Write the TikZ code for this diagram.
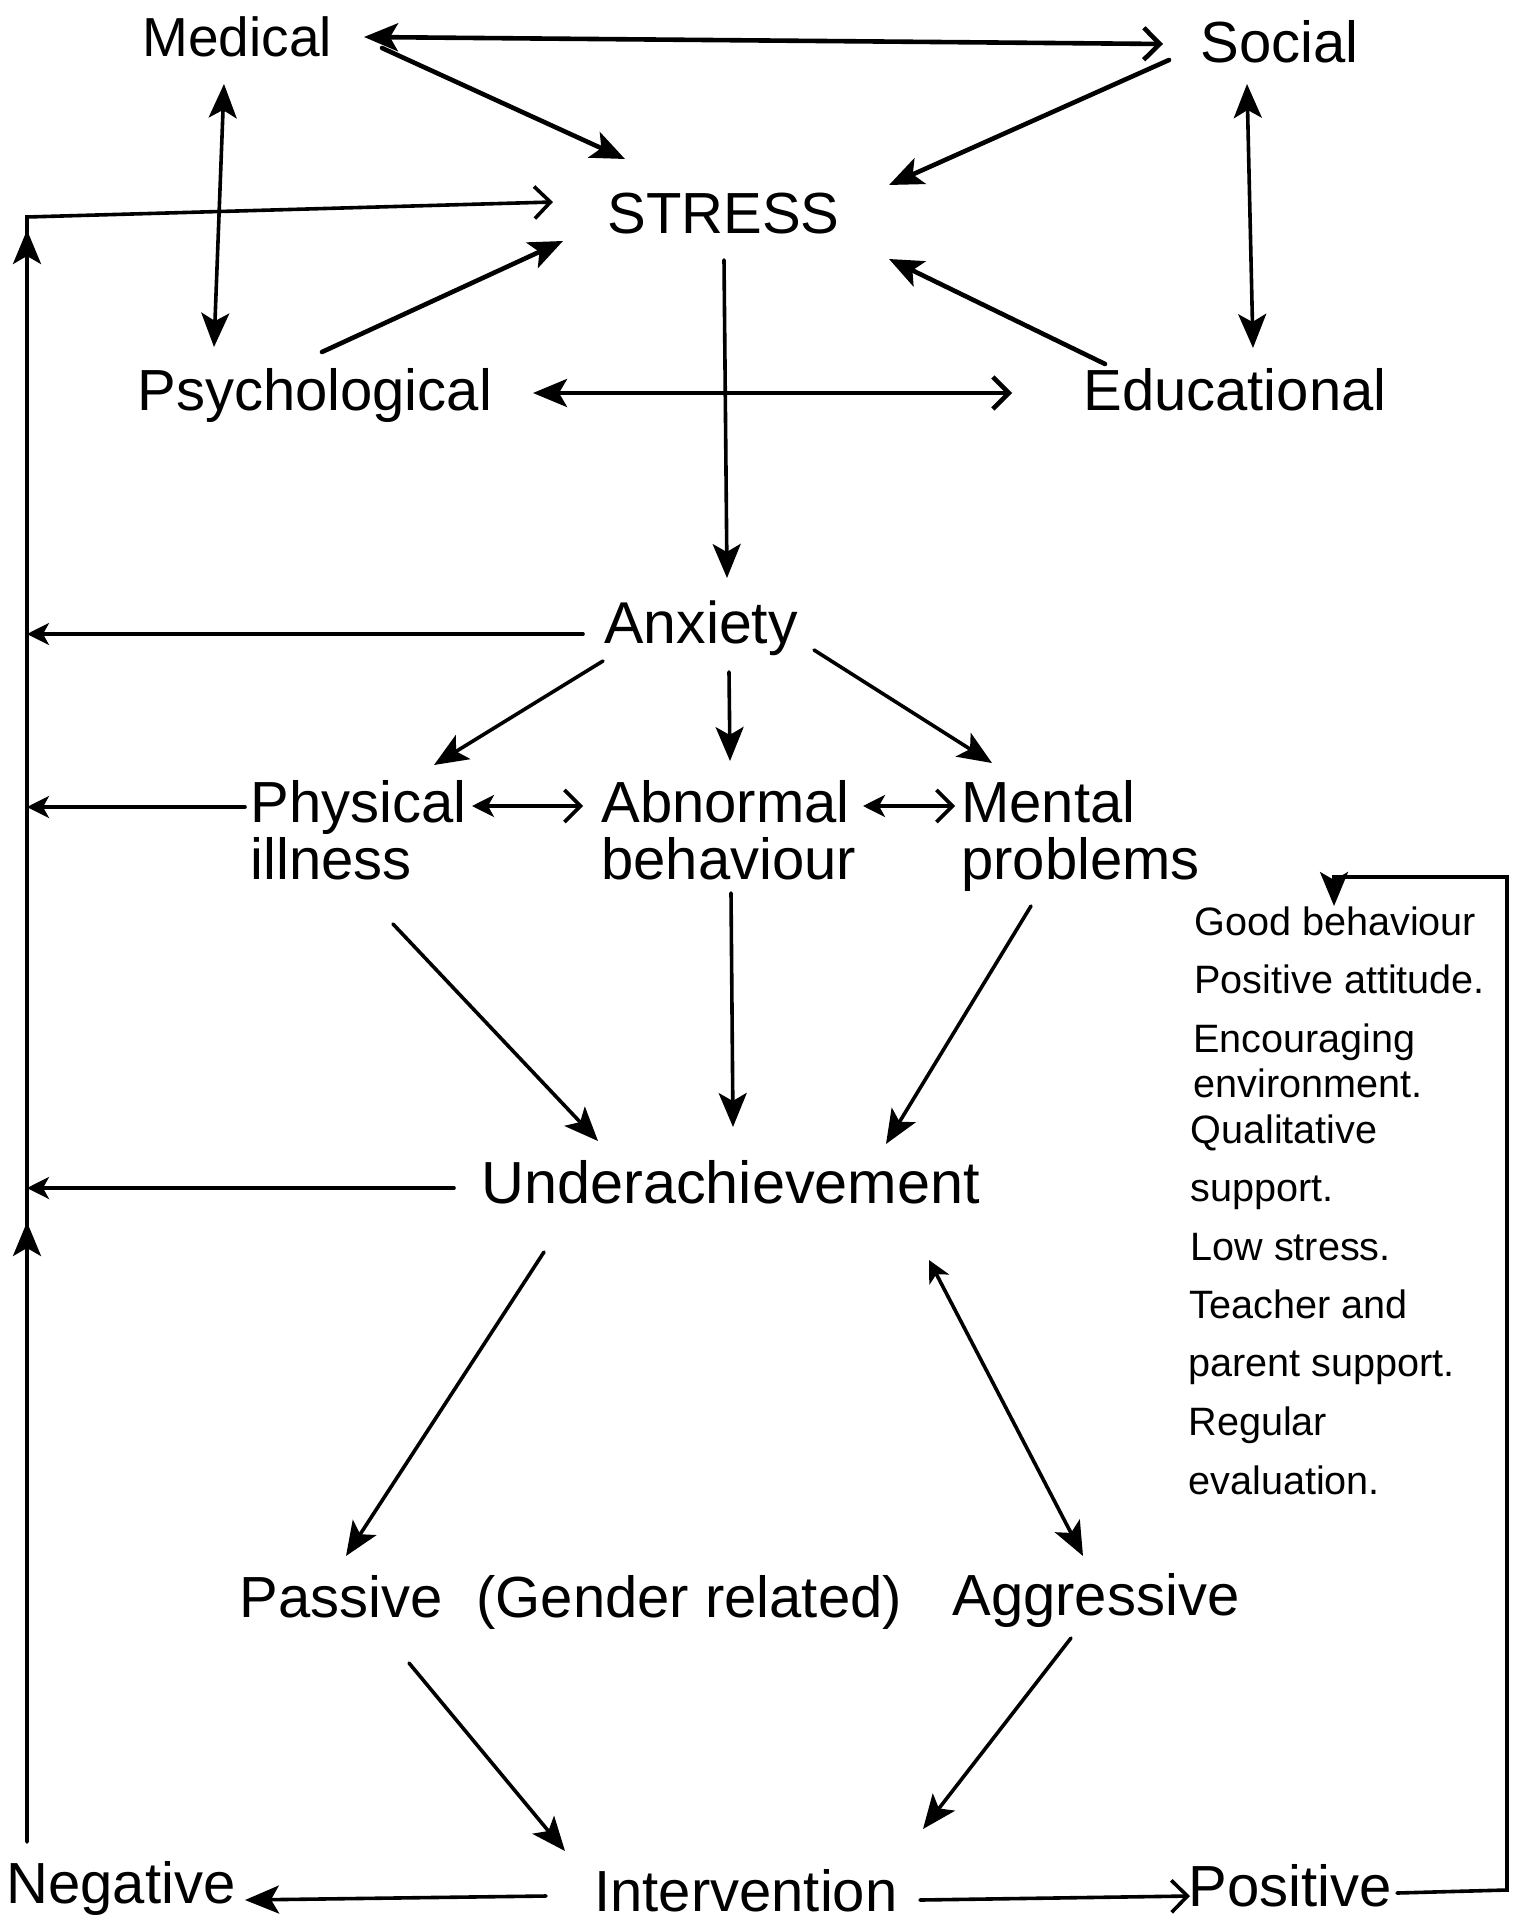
\documentclass[tikz,border=0pt]{standalone}
\usepackage{fontspec}
\setmainfont{Liberation Sans}
\usetikzlibrary{arrows.meta,calc,decorations.markings}

\tikzset{
  hd/.tip={Stealth[length=17pt,width=14pt,inset=4pt]},
  sm/.tip={Stealth[length=11pt,width=11pt,inset=3pt]},
  op/.tip={Straight Barb[length=8pt,width=16pt]},
}

\begin{document}
\begin{tikzpicture}[x=0.5pt,y=-0.5pt,
  lbl/.style={anchor=base west,inner sep=0pt,font=\fontsize{29pt}{34pt}\selectfont},
  sml/.style={anchor=base west,inner sep=0pt,font=\fontsize{19.8pt}{23pt}\selectfont},
  con/.style={line width=1.8pt,line cap=round},
  heavy/.style={line width=2.3pt,line cap=round},
]
\fill[white] (0,0) rectangle (1512,1925);
\useasboundingbox (0,0) rectangle (1512,1925);

% ---------- labels ----------
\node[lbl,font=\fontsize{27.5pt}{33pt}\selectfont] (nMed) at (142,57) {Medical};
\node[lbl] (nSoc) at (1200,63) {Social};
\node[lbl] (nStr) at (607,234) {STRESS};
\node[lbl] (nPsy) at (137,411) {Psychological};
\node[lbl] (nEdu) at (1083,411) {Educational};
\node[lbl,font=\fontsize{29.5pt}{34pt}\selectfont] (nAnx) at (604,643) {Anxiety};
\node[lbl] (nPhy) at (250,822) {Physical};
\node[lbl] (nPhyB) at (250,879) {illness};
\node[lbl] (nAbn) at (601,822) {Abnormal};
\node[lbl] (nAbnB) at (601,879) {behaviour};
\node[lbl] (nMen) at (961,822) {Mental};
\node[lbl] (nMenB) at (961,879) {problems};
\node[lbl,font=\fontsize{29.7pt}{34pt}\selectfont] (nUnd) at (481,1203) {Underachievement};
\node[lbl] (nPas) at (239,1617) {Passive};
\node[lbl] (nGen) at (476,1617) {(Gender related)};
\node[lbl] (nAgg) at (952,1615) {Aggressive};
\node[lbl] (nNeg) at (6,1903) {Negative};
\node[lbl] (nInt) at (594,1911) {Intervention};
\node[lbl] (nPos) at (1188,1906) {Positive};

% list of positive factors
\node[sml] (nL1) at (1194,935) {Good behaviour};
\node[sml] (nL2) at (1194,993) {Positive attitude.};
\node[sml] (nL3) at (1193,1052) {Encouraging};
\node[sml] (nL4) at (1193,1097) {environment.};
\node[sml] (nL5) at (1190,1143) {Qualitative};
\node[sml] (nL6) at (1190,1201) {support.};
\node[sml] (nL7) at (1190,1260) {Low stress.};
\node[sml] (nL8) at (1189,1318) {Teacher and};
\node[sml] (nL9) at (1188,1376) {parent support.};
\node[sml] (nL10) at (1188,1435) {Regular};
\node[sml] (nL11) at (1188,1494) {evaluation.};

% ---------- connector ports ----------
\coordinate (medE)  at ($(nMed.base west)+(222,-20)$);
\coordinate (socW)  at ($(nSoc.base west)+(-37,-19)$);
\coordinate (medSE) at ($(nMed.base west)+(240,-9)$);
\coordinate (strNW) at ($(nStr.base west)+(18,-75)$);
\coordinate (socSW) at ($(nSoc.base west)+(-31,-3)$);
\coordinate (strNE) at ($(nStr.base west)+(282,-49)$);
\coordinate (eduNW) at ($(nEdu.base west)+(22,-47)$);
\coordinate (strSE) at ($(nStr.base west)+(282,25)$);
\coordinate (psyNE) at ($(nPsy.base west)+(185,-59)$);
\coordinate (strSW) at ($(nStr.base west)+(-44,7)$);
\coordinate (medS)  at ($(nMed.base west)+(82,27)$);
\coordinate (psyN)  at ($(nPsy.base west)+(77,-64)$);
\coordinate (socS)  at ($(nSoc.base west)+(47,21)$);
\coordinate (eduN)  at ($(nEdu.base west)+(170,-63)$);
\coordinate (psyE)  at ($(nPsy.base west)+(396,-18)$);
\coordinate (eduW)  at ($(nEdu.base west)+(-71,-18)$);

\coordinate (busBot) at ($(nNeg.base west)+(21,-61)$);
\coordinate (busTop) at ($(nStr.base west)+(-580,-17)$);
\coordinate (strW)   at ($(nStr.base west)+(-54,-32)$);
\coordinate (anxW)   at ($(nAnx.base west)+(-21,-9)$);
\coordinate (phyW)   at ($(nPhy.base west)+(-5,-15)$);
\coordinate (undW)   at ($(nUnd.base west)+(-27,-15)$);

\coordinate (strS)  at ($(nStr.base west)+(117,26)$);
\coordinate (anxN)  at ($(nAnx.base west)+(123,-65)$);
\coordinate (anxSW) at ($(nAnx.base west)+(-1,18)$);
\coordinate (phyNE) at ($(nPhy.base west)+(184,-57)$);
\coordinate (anxS)  at ($(nAnx.base west)+(125,29)$);
\coordinate (abnN)  at ($(nAbn.base west)+(129,-61)$);
\coordinate (anxSE) at ($(nAnx.base west)+(210,7)$);
\coordinate (menNW) at ($(nMen.base west)+(31,-59)$);
\coordinate (phyE)  at ($(nPhy.base west)+(222,-16)$);
\coordinate (abnW)  at ($(nAbn.base west)+(-18,-16)$);
\coordinate (abnE)  at ($(nAbn.base west)+(262,-16)$);
\coordinate (menW)  at ($(nMen.base west)+(-6,-16)$);

\coordinate (phyS)  at ($(nPhyB.base west)+(143,45)$);
\coordinate (undNW) at ($(nUnd.base west)+(117,-62)$);
\coordinate (abnS)  at ($(nAbnB.base west)+(130,14)$);
\coordinate (undN)  at ($(nUnd.base west)+(252,-76)$);
\coordinate (menS)  at ($(nMenB.base west)+(70,27)$);
\coordinate (undNE) at ($(nUnd.base west)+(405,-59)$);

\coordinate (undSW) at ($(nUnd.base west)+(63,49)$);
\coordinate (pasN)  at ($(nPas.base west)+(107,-61)$);
\coordinate (undSE) at ($(nUnd.base west)+(448,57)$);
\coordinate (aggN)  at ($(nAgg.base west)+(131,-59)$);
\coordinate (pasS)  at ($(nPas.base west)+(170,46)$);
\coordinate (intNW) at ($(nInt.base west)+(-29,-60)$);
\coordinate (aggS)  at ($(nAgg.base west)+(119,23)$);
\coordinate (intNE) at ($(nInt.base west)+(329,-82)$);
\coordinate (intW)  at ($(nInt.base west)+(-48,-15)$);
\coordinate (negE)  at ($(nNeg.base west)+(239,-3)$);
\coordinate (intE)  at ($(nInt.base west)+(326,-11)$);
\coordinate (posW)  at ($(nPos.base west)+(2,-10)$);
\coordinate (posE)  at ($(nPos.base west)+(209,-13)$);
\coordinate (loopBR) at ($(nPos.base west)+(319,-16)$);
\coordinate (loopT) at ($(nL1.base west)+(140,-58)$);
\coordinate (l1N)   at ($(nL1.base west)+(140,-29)$);

% ---------- sources of stress ----------
\draw[heavy,hd-op] (medE) -- (socW);
\draw[heavy,-hd] (medSE) -- (strNW);
\draw[heavy,-hd] (socSW) -- (strNE);
\draw[heavy,-hd] (eduNW) -- (strSE);
\draw[heavy,-hd] (psyNE) -- (strSW);
\draw[con,hd-hd] (medS) -- (psyN);
\draw[con,hd-hd] (socS) -- (eduN);
\draw[heavy,hd-op] (psyE) -- (eduW);

% ---------- feedback bus on the left ----------
\draw[con,-op,postaction={decorate},
  decoration={markings,
    mark=at position 310pt with {\arrow{hd}},
    mark=at position 806pt with {\arrow{hd}}}]
  (busBot) -- (busTop) -- (strW);
\draw[con,-sm] (anxW) -- (anxW -| busBot);
\draw[con,-sm] (phyW) -- (phyW -| busBot);
\draw[con,-sm] (undW) -- (undW -| busBot);

% ---------- stress to anxiety and its effects ----------
\draw[con,-hd] (strS) -- (anxN);
\draw[con,-hd] (anxSW) -- (phyNE);
\draw[con,-hd] (anxS) -- (abnN);
\draw[con,-hd] (anxSE) -- (menNW);
\draw[con,sm-op] (phyE) -- (abnW);
\draw[con,sm-op] (abnE) -- (menW);

\draw[con,-hd] (phyS) -- (undNW);
\draw[con,-hd] (abnS) -- (undN);
\draw[con,-hd] (menS) -- (undNE);

% ---------- behaviour and intervention ----------
\draw[con,-hd] (undSW) -- (pasN);
\draw[con,sm-hd] (undSE) -- (aggN);
\draw[con,-hd] (pasS) -- (intNW);
\draw[con,-hd] (aggS) -- (intNE);
\draw[con,-hd] (intW) -- (negE);
\draw[con,-op] (intE) -- (posW);
\draw[con,-hd] (posE) -- (loopBR) |- (loopT) -- (l1N);
\end{tikzpicture}
\end{document}
